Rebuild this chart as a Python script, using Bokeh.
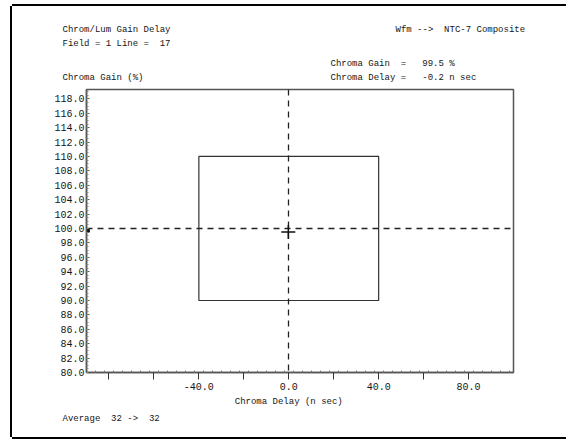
from bokeh.plotting import figure
from bokeh.models import Range1d, FixedTicker, LinearAxis
from bokeh.layouts import column
from bokeh.embed import file_html
from bokeh.resources import INLINE

# ---- data ----
gain_ticks = [80, 82, 84, 86, 88, 90, 92, 94, 96, 98, 100,
              102, 104, 106, 108, 110, 112, 114, 116, 118]
delay_ticks = [-80, -60, -40, -20, 0, 20, 40, 60, 80]
delay_labelled = [-40, 0, 40, 80]
limit_delay = [-40, 40]
limit_gain = [90, 110]
ref_delay = 0
ref_gain = 100
meas_delay = -0.2
meas_gain = 99.5
field, line = 1, 17
avg_in, avg_out = 32, 32
x_lim = (-90, 100)
y_lim = (80, 119.3)

FONT = "Liberation Mono"
FS = "9px"          # header / footer texts
TFS = "10px"        # tick labels
TC = "#151515"
CW = 5.4            # advance of one character at 9px

# page geometry (window 566 x 440)
OFF_X, OFF_Y = 12, 6
W, H = 566 - OFF_X, 437 - OFF_Y
FL, FR, FT, FB = 86, 513, 89, 372     # frame edges in window pixels

p = figure(width=W, height=H, output_backend="svg", toolbar_location=None,
           x_range=Range1d(*x_lim), y_range=Range1d(*y_lim),
           min_border_left=FL - OFF_X, min_border_right=566 - FR,
           min_border_top=FT - OFF_Y, min_border_bottom=H - (FB - OFF_Y))
p.margin = 0
p.grid.visible = False
p.background_fill_color = "white"
p.border_fill_color = "white"
p.outline_line_color = "#555555"
p.outline_line_width = 1.5


def keep(t):
    return t.replace("  ", " \u00a0")


def px2x(px):
    return x_lim[0] + (px - FL) * (x_lim[1] - x_lim[0]) / (FR - FL)


def text_row(place, items, standoff):
    """items: list of (left_px, text) or (data_x, text, 'center')"""
    ticks, over = [], {}
    for it in items:
        if len(it) == 3:
            xc = it[0]
        else:
            xc = px2x(it[0] + len(it[1]) * CW / 2)
        xc = round(xc, 3)
        ticks.append(xc)
        over[xc] = keep(it[1])
    ax = LinearAxis(ticker=FixedTicker(ticks=ticks, minor_ticks=[]),
                    major_label_overrides=over,
                    axis_line_color=None, major_tick_line_color=None,
                    minor_tick_line_color=None, major_tick_in=0, major_tick_out=0,
                    minor_tick_in=0, minor_tick_out=0,
                    major_label_standoff=standoff,
                    major_label_text_font=FONT, major_label_text_font_size=FS,
                    major_label_text_color=TC)
    p.add_layout(ax, place)


# x axis
xa = p.xaxis[0]
xa.ticker = FixedTicker(ticks=delay_ticks,
                        minor_ticks=[v for v in range(-90, 101, 4)])
xa.major_label_overrides = {v: (f"{v:.1f}" if v in delay_labelled else "")
                            for v in delay_ticks}
xa.major_tick_out = 7
xa.major_tick_in = 0
xa.minor_tick_in = 2
xa.minor_tick_out = 0
xa.axis_line_color = "#555555"
xa.axis_line_width = 1.5
xa.major_tick_line_color = "#333333"
xa.minor_tick_line_color = "#777777"
xa.major_label_text_font = FONT
xa.major_label_text_font_size = TFS
xa.major_label_text_color = TC
xa.major_label_standoff = 3

# y axis
ya = p.yaxis[0]
ya.ticker = FixedTicker(ticks=gain_ticks,
                        minor_ticks=[v / 2 for v in range(160, 239)])
ya.major_label_overrides = {v: f"{v:.1f}" for v in gain_ticks}
ya.major_tick_in = 3
ya.major_tick_out = 0
ya.minor_tick_in = 2
ya.minor_tick_out = 0
ya.axis_line_color = "#555555"
ya.axis_line_width = 1.5
ya.major_tick_line_color = "#444444"
ya.minor_tick_line_color = "#888888"
ya.major_label_text_font = FONT
ya.major_label_text_font_size = TFS
ya.major_label_text_color = TC
ya.major_label_standoff = 2

# header rows (innermost first)
text_row("above", [(62, "Chroma Gain (%)"),
                   (330, f"Chroma Delay =   {meas_delay:.1f} n sec")], 7)
text_row("above", [(330, f"Chroma Gain  =   {meas_gain:.1f} %")], 1)
text_row("above", [(62, f"Field = {field} Line =  {line}")], 7)
text_row("above", [(62, "Chrom/Lum Gain Delay"),
                   (395, "Wfm -->  NTC-7 Composite")], 1)
# footer rows
text_row("below", [(ref_delay, "Chroma Delay (n sec)", "center")], 4)
text_row("below", [(62, f"Average  {avg_in} ->  {avg_out}")], 4)

# limit box
p.quad(left=[limit_delay[0]], right=[limit_delay[1]],
       bottom=[limit_gain[0]], top=[limit_gain[1]],
       fill_color=None, line_color="#333333", line_width=1.2)

# reference dashed cross-lines
p.vspan(x=[ref_delay], line_color="#222222", line_width=1.3, line_dash="6 5")
p.hspan(y=[ref_gain], line_color="#222222", line_width=1.3, line_dash="6 5")

# measured point
p.scatter([meas_delay], [meas_gain], marker="cross", size=14,
          line_color="#111111", line_width=1.5)
p.scatter([x_lim[0] + 0.6], [meas_gain + 0.2], marker="square", size=3,
          fill_color="#111111", line_color="#111111")

page = column(p, margin=(OFF_Y, 0, 0, OFF_X),
              styles={"box-shadow": "-2px 0 0 #000, 0 -2px 0 #000, 0 2px 0 #000"})

open("out.html", "w").write(file_html(page, INLINE))
